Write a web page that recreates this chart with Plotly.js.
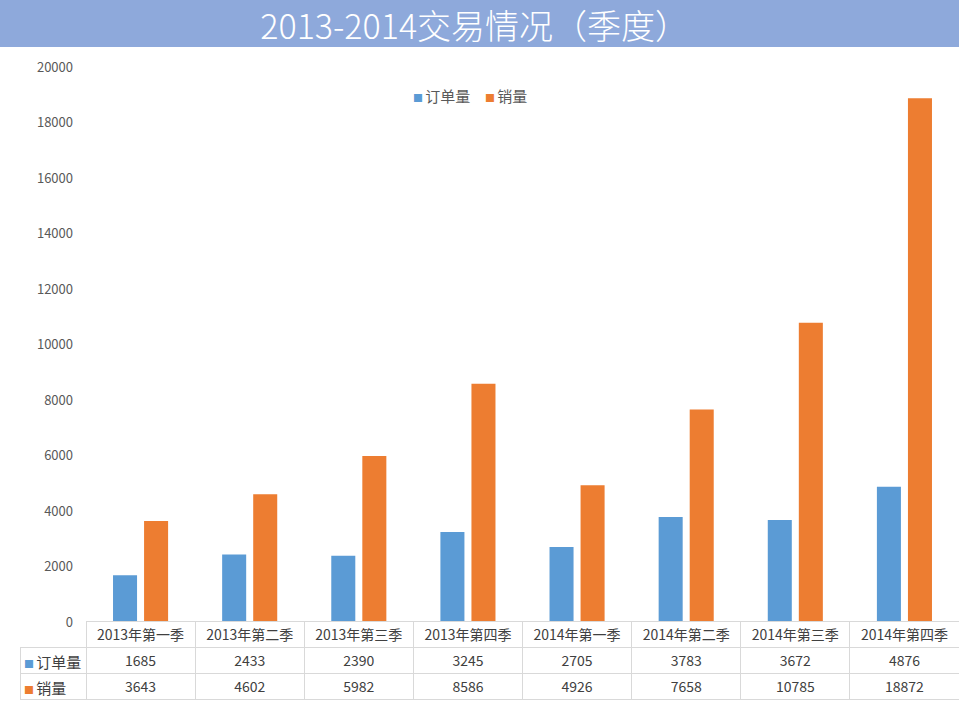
<!DOCTYPE html>
<html>
<head>
<meta charset="utf-8">
<script src="https://cdn.plot.ly/plotly-3.0.1.min.js"></script>
<style>html,body{margin:0;padding:0;background:#fff;}#chart{width:959px;height:706px;}</style>
</head>
<body>
<div id="chart"></div>
<script>
const categories = ['2013年第一季','2013年第二季','2013年第三季','2013年第四季','2014年第一季','2014年第二季','2014年第三季','2014年第四季'];
const orders = [1685, 2433, 2390, 3245, 2705, 3783, 3672, 4876];
const sales = [3643, 4602, 5982, 8586, 4926, 7658, 10785, 18872];
const seriesNames = ['订单量', '销量'];
const colors = ['#5B9BD5', '#ED7D31'];
const yTicks = [0, 2000, 4000, 6000, 8000, 10000, 12000, 14000, 16000, 18000, 20000];

const FONT = '"Noto Sans CJK SC", "Noto Sans", sans-serif';

const bars = [orders, sales].map((vals, i) => ({
  type: 'bar',
  name: seriesNames[i],
  x: categories,
  y: vals,
  marker: {color: colors[i]},
  hoverinfo: 'skip',
  showlegend: false
}));

const cellCols = [seriesNames.map(() => '')].concat(categories.map((c, k) => [String(orders[k]), String(sales[k])]));

const table = {
  type: 'table',
  domain: {x: [0, 1], y: [0, 0.11143]},
  columnwidth: [66].concat(categories.map(() => 109.125)),
  header: {
    values: [''].concat(categories),
    height: 26,
    align: 'center',
    fill: {color: ['rgba(255,255,255,0)'].concat(categories.map(() => 'white'))},
    line: {color: ['rgba(255,255,255,0)'].concat(categories.map(() => '#D9D9D9')), width: 1},
    font: {family: FONT, size: 14, color: '#404040'}
  },
  cells: {
    values: cellCols,
    height: 26,
    align: 'center',
    fill: {color: 'white'},
    line: {color: '#D9D9D9', width: 1},
    font: {family: FONT, size: 14, color: '#404040'}
  }
};

// legend drawn as annotations (small squares + names)
const legendX = [0.4166, 0.4933];
const legendAnn = seriesNames.map((n, i) => ({
  xref: 'paper', yref: 'paper', x: legendX[i], y: 0.864,
  xanchor: 'left', yanchor: 'middle', showarrow: false,
  text: '<span style="color:' + colors[i] + ';font-size:10px">■ </span>' + n,
  font: {family: FONT, size: 15, color: '#595959'}
}));
// row labels of the data table
const rowY = [0.0557, 0.0179];
const rowAnn = seriesNames.map((n, i) => ({
  xref: 'paper', yref: 'paper', x: 0.002, y: rowY[i],
  xanchor: 'left', yanchor: 'middle', showarrow: false,
  text: '<span style="color:' + colors[i] + ';font-size:10px">■ </span>' + n,
  font: {family: FONT, size: 15, color: '#404040'}
}));

const layout = {
  width: 959,
  height: 706,
  margin: {l: 20, r: 0, t: 0, b: 6},
  paper_bgcolor: 'white',
  plot_bgcolor: 'white',
  barmode: 'group',
  bargap: 0.431,
  bargroupgap: 0.226,
  font: {family: FONT, color: '#595959'},
  title: {
    text: '2013-2014交易情况（季度）',
    x: 0.495, xref: 'container', xanchor: 'center',
    y: 0.962, yref: 'container', yanchor: 'middle',
    font: {family: FONT, size: 34, color: 'white', weight: 300}
  },
  xaxis: {
    domain: [66/939, 1],
    showticklabels: false,
    showgrid: false,
    zeroline: false,
    showline: false,
    ticks: ''
  },
  yaxis: {
    domain: [0.11143, 0.90429],
    range: [0, 20000],
    tickvals: yTicks,
    ticktext: yTicks.map(String),
    showgrid: false,
    zeroline: false,
    showline: false,
    ticks: '',
    ticklabelstandoff: 12,
    tickfont: {family: FONT, size: 13, color: '#595959'}
  },
  showlegend: false,
  annotations: legendAnn.concat(rowAnn),
  shapes: [{
    type: 'rect', xref: 'paper', yref: 'paper',
    x0: -0.0213, x1: 1, y0: 0.93286, y1: 1,
    fillcolor: '#8EA9DB', line: {width: 0}, layer: 'below'
  }]
};

Plotly.newPlot('chart', bars.concat([table]), layout, {displayModeBar: false, staticPlot: true});
</script>
</body>
</html>
